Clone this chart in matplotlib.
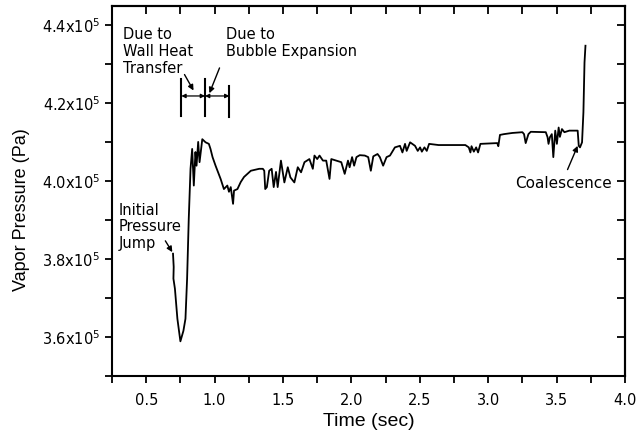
import numpy as np
import matplotlib
matplotlib.use("Agg")
import matplotlib.pyplot as plt
from matplotlib.ticker import MultipleLocator, FuncFormatter

# pressure trace (time in s, pressure in 1e5 Pa)
time_s = [0.696, 0.701, 0.699, 0.710, 0.728, 0.750, 0.772, 0.787, 0.799, 0.811,
          0.824, 0.836, 0.848, 0.860, 0.868, 0.880, 0.890, 0.910, 0.934, 0.958,
          0.970, 0.985, 1.007, 1.022, 1.044, 1.068, 1.093, 1.105, 1.118, 1.135,
          1.142, 1.167, 1.191, 1.215, 1.265, 1.326, 1.353, 1.363, 1.370, 1.382,
          1.399, 1.417, 1.432, 1.449, 1.461, 1.485, 1.510, 1.535, 1.554, 1.583,
          1.608, 1.632, 1.657, 1.693, 1.718, 1.730, 1.750, 1.767, 1.792, 1.816,
          1.840, 1.853, 1.890, 1.926, 1.951, 1.975, 1.987, 2.005, 2.020, 2.037,
          2.061, 2.098, 2.123, 2.142, 2.160, 2.191, 2.208, 2.232, 2.257, 2.282,
          2.318, 2.355, 2.373, 2.392, 2.404, 2.429, 2.465, 2.485, 2.502, 2.515,
          2.534, 2.551, 2.568, 2.637, 2.833, 2.858, 2.870, 2.878, 2.895, 2.912,
          2.926, 2.943, 3.066, 3.074, 3.086, 3.115, 3.176, 3.250, 3.262, 3.274,
          3.294, 3.311, 3.421, 3.434, 3.441, 3.451, 3.465, 3.476, 3.490, 3.502,
          3.515, 3.524, 3.539, 3.557, 3.593, 3.654, 3.662, 3.671, 3.686, 3.696,
          3.704, 3.711]
pressure_e5 = [3.814, 3.780, 3.750, 3.724, 3.647, 3.589, 3.616, 3.647, 3.750, 3.903,
               4.032, 4.083, 3.989, 4.075, 4.040, 4.101, 4.049, 4.108, 4.100, 4.096,
               4.083, 4.062, 4.040, 4.026, 4.006, 3.980, 3.989, 3.973, 3.985, 3.942,
               3.976, 3.980, 3.998, 4.011, 4.027, 4.032, 4.032, 4.027, 3.980, 3.985,
               4.027, 4.032, 3.985, 4.024, 3.985, 4.053, 3.997, 4.036, 4.010, 3.997,
               4.036, 4.023, 4.049, 4.057, 4.032, 4.066, 4.057, 4.066, 4.053, 4.053,
               4.006, 4.057, 4.053, 4.049, 4.019, 4.053, 4.036, 4.062, 4.040, 4.062,
               4.067, 4.066, 4.062, 4.027, 4.064, 4.070, 4.062, 4.040, 4.062, 4.066,
               4.087, 4.091, 4.074, 4.096, 4.078, 4.100, 4.091, 4.078, 4.087, 4.076,
               4.087, 4.078, 4.096, 4.093, 4.093, 4.087, 4.074, 4.090, 4.076, 4.087,
               4.074, 4.096, 4.098, 4.090, 4.119, 4.121, 4.124, 4.126, 4.121, 4.098,
               4.121, 4.127, 4.126, 4.113, 4.096, 4.113, 4.121, 4.062, 4.130, 4.096,
               4.138, 4.114, 4.134, 4.126, 4.130, 4.130, 4.091, 4.087, 4.100, 4.177,
               4.305, 4.348]

# interval markers above the curve
marker_times = [0.757, 0.93, 1.108]
marker_top = [4.262, 4.262, 4.244]
marker_bottom = [4.167, 4.167, 4.165]
arrow_level = 4.219

p = np.array(pressure_e5) * 1e5

fig = plt.figure(figsize=(6.36, 4.32), dpi=100)
ax = fig.add_axes([112 / 636, 56 / 432, 513 / 636, 370 / 432])

ax.plot(time_s, p, color="black", lw=1.3)

ax.set_xlim(0.25, 4.0)
ax.set_ylim(3.5e5, 4.45e5)
ax.xaxis.set_major_locator(MultipleLocator(0.5))
ax.xaxis.set_minor_locator(MultipleLocator(0.25))
ax.yaxis.set_major_locator(MultipleLocator(0.2e5))
ax.yaxis.set_minor_locator(MultipleLocator(0.1e5))
ax.xaxis.set_major_formatter(FuncFormatter(lambda v, pos: f"{v:.1f}"))
ax.yaxis.set_major_formatter(FuncFormatter(lambda v, pos: f"{v / 1e5:.1f}x10$^5$"))

for s in ax.spines.values():
    s.set_linewidth(1.5)
ax.tick_params(which="both", direction="out", length=5, width=1.3,
               labelsize=10.5, top=False, right=False)
ax.tick_params(axis="x", pad=7)

# mirrored inward ticks on top and right
top = ax.secondary_xaxis("top")
top.xaxis.set_major_locator(MultipleLocator(0.25))
top.tick_params(direction="in", length=6, width=1.3, labeltop=False)
top.spines["top"].set_linewidth(1.5)
right = ax.secondary_yaxis("right")
right.yaxis.set_major_locator(MultipleLocator(0.1e5))
right.tick_params(direction="in", length=6, width=1.3, labelright=False)
right.spines["right"].set_linewidth(1.5)

ax.set_xlabel("Time (sec)", fontsize=14, family="Liberation Sans", labelpad=4)
ax.set_ylabel("Vapor Pressure (Pa)", fontsize=13, family="Liberation Sans")
ax.yaxis.set_label_coords(-0.16, 0.45)

# interval bars with double arrows
for t, y0, y1 in zip(marker_times, marker_bottom, marker_top):
    ax.plot([t, t], [y0 * 1e5, y1 * 1e5], color="black", lw=1.5)
for a, b in zip(marker_times[:-1], marker_times[1:]):
    ax.annotate("", xy=(a, arrow_level * 1e5), xytext=(b, arrow_level * 1e5),
                arrowprops=dict(arrowstyle="<|-|>", color="black", lw=0.9,
                                mutation_scale=6, shrinkA=0, shrinkB=0))

fs = 10.5
ax.text(0.331, 4.395e5, "Due to\nWall Heat\nTransfer", fontsize=fs,
        va="top", ha="left", linespacing=1.15)
ax.text(1.081, 4.395e5, "Due to\nBubble Expansion", fontsize=fs,
        va="top", ha="left", linespacing=1.15)
ax.text(0.301, 3.945e5, "Initial\nPressure\nJump", fontsize=fs,
        va="top", ha="left", linespacing=1.15)
ax.text(3.55, 3.995e5, "Coalescence", fontsize=11, va="center", ha="center")

arrow = dict(arrowstyle="-|>", color="black", lw=1.0, mutation_scale=8,
             shrinkA=0, shrinkB=0)
ax.annotate("", xy=(0.846, 4.233e5), xytext=(0.780, 4.274e5), arrowprops=arrow)
ax.annotate("", xy=(0.962, 4.226e5), xytext=(1.036, 4.291e5), arrowprops=arrow)
ax.annotate("", xy=(0.691, 3.818e5), xytext=(0.640, 3.847e5), arrowprops=arrow)
ax.annotate("", xy=(3.654, 4.091e5), xytext=(3.580, 4.030e5), arrowprops=arrow)

fig.savefig("out.png", dpi=100)
